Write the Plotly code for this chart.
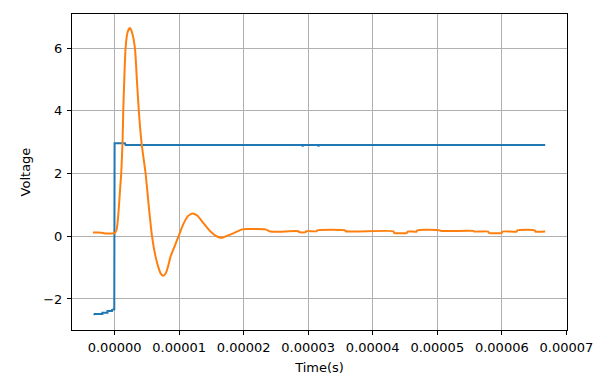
import plotly.graph_objects as go

# Data (time in units of 1e-5 s, voltage in V)
blue_t = [-0.32, -0.31, -0.19, -0.19, -0.11, -0.11, -0.04, -0.04, -0.005, 0.0, 0.16, 0.17,
          2.91, 2.915, 2.92, 3.155, 3.16, 3.165, 6.672]
blue_v = [-2.51, -2.48, -2.48, -2.44, -2.44, -2.38, -2.38, -2.35, -2.33, 2.97, 2.97, 2.91,
          2.91, 2.86, 2.91, 2.91, 2.86, 2.91, 2.91]

orange_t = [-0.336, -0.25, -0.2, -0.15, -0.05, 0.0, 0.03, 0.05, 0.067, 0.085, 0.103, 0.124,
            0.134, 0.15, 0.17, 0.2, 0.237, 0.27, 0.315, 0.345, 0.376, 0.418, 0.48, 0.53,
            0.58, 0.635, 0.68, 0.715, 0.754, 0.795, 0.83, 0.867, 0.93, 0.995, 1.07, 1.14, 1.21,
            1.28, 1.357, 1.486, 1.58, 1.667, 1.75, 1.847, 1.976, 2.05, 2.34, 2.41,
            2.85, 2.86, 2.96, 2.97, 3.13, 3.14, 3.57, 3.58, 4.32, 4.33, 4.53, 4.54, 4.68,
            4.69, 5.04, 5.05, 5.56, 5.57, 5.79, 5.80, 6.00, 6.01, 6.23, 6.24, 6.51, 6.52, 6.672]
orange_v = [0.12, 0.12, 0.11, 0.09, 0.09, 0.10, 0.20, 0.52, 0.95, 1.5, 2.01, 3.07,
            3.98, 5.0, 6.0, 6.5, 6.64, 6.5, 6.0, 5.0, 3.98, 2.97, 2.01, 0.95,
            0.0, -0.65, -1.0, -1.19, -1.26, -1.17, -0.95, -0.65, -0.32, 0.02, 0.41, 0.65, 0.73,
            0.66, 0.47, 0.15, 0.0, -0.045, 0.02, 0.1, 0.22, 0.23, 0.22, 0.15,
            0.16, 0.13, 0.13, 0.16, 0.16, 0.19, 0.19, 0.16, 0.16, 0.11, 0.11, 0.15, 0.15,
            0.19, 0.19, 0.17, 0.17, 0.15, 0.15, 0.11, 0.11, 0.15, 0.15, 0.19, 0.19, 0.15, 0.15]

x_tickvals = [0, 1e-5, 2e-5, 3e-5, 4e-5, 5e-5, 6e-5, 7e-5]
x_ticktext = ["0.00000", "0.00001", "0.00002", "0.00003", "0.00004", "0.00005", "0.00006", "0.00007"]
y_tickvals = [-2, 0, 2, 4, 6]
y_ticktext = ["\u22122", "0", "2", "4", "6"]

scale = 1e-5
fig = go.Figure()
fig.add_trace(go.Scatter(x=[t * scale for t in blue_t], y=blue_v, mode="lines",
                         line=dict(color="#1f77b4", width=2), showlegend=False))
fig.add_trace(go.Scatter(x=[t * scale for t in orange_t], y=orange_v, mode="lines",
                         line=dict(color="#ff7f0e", width=2, shape="spline", smoothing=0.6),
                         showlegend=False))

axis_common = dict(showline=True, linecolor="black", linewidth=1, mirror=True,
                   showgrid=True, gridcolor="#b0b0b0", gridwidth=1, zeroline=False,
                   ticks="outside", ticklen=4, tickcolor="black", tickwidth=1,
                   automargin=False,
                   tickfont=dict(family="DejaVu Sans", size=13, color="black"))

fig.update_xaxes(range=[-0.66e-5, 7.01e-5], tickvals=x_tickvals, ticktext=x_ticktext,
                 ticklabelstandoff=1,
                 title=dict(text="Time(s)", font=dict(family="DejaVu Sans", size=13, color="black"),
                            standoff=9),
                 **axis_common)
fig.update_yaxes(range=[-2.99, 7.09], tickvals=y_tickvals, ticktext=y_ticktext,
                 ticklabelstandoff=2,
                 title=dict(text="Voltage", font=dict(family="DejaVu Sans", size=13, color="black"),
                            standoff=9),
                 **axis_common)

fig.update_layout(width=603, height=376, margin=dict(l=72, r=36, t=14, b=46),
                  plot_bgcolor="white", paper_bgcolor="white",
                  font=dict(family="DejaVu Sans", size=13, color="black"))

fig.write_html("out.html")
